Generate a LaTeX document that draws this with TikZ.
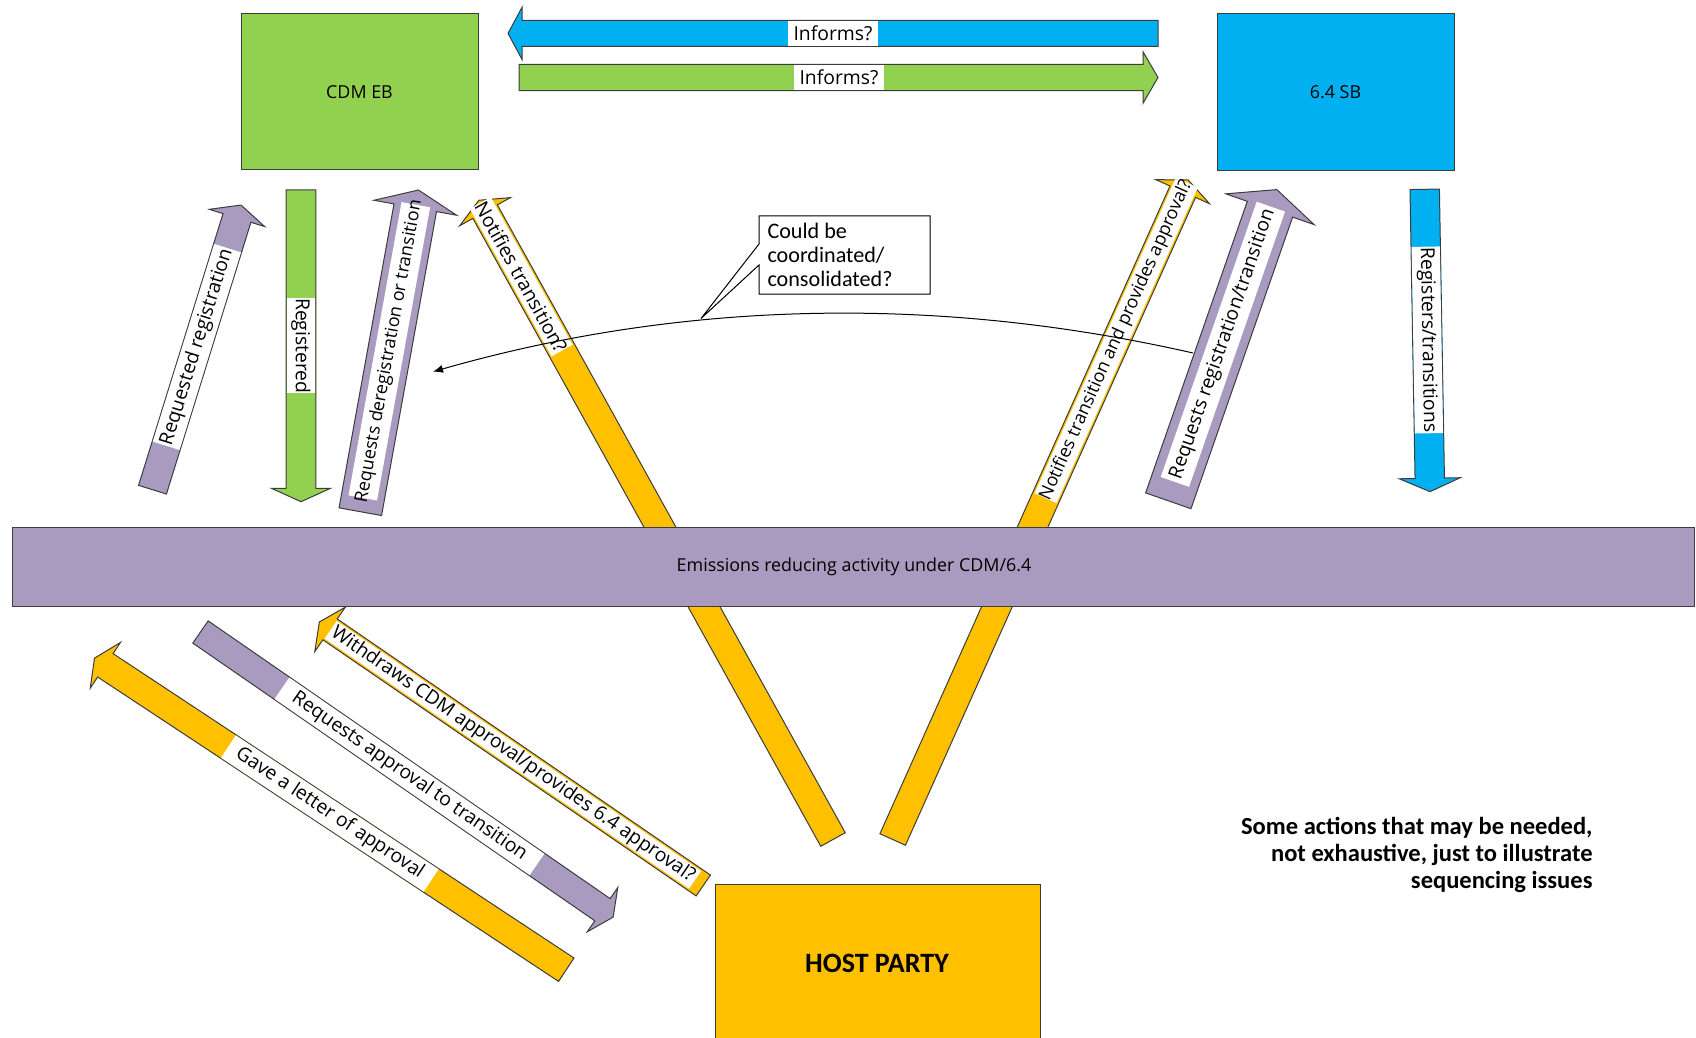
\documentclass[tikz,border=0pt]{standalone}
\usepackage{fontspec}
\setmainfont{Open Sans}
\newfontfamily\calibrifont{Carlito}
\usetikzlibrary{arrows.meta}

\tikzset{every picture/.style={line width=0.75pt}}
\definecolor{cdmgreen}{RGB}{146,208,80}
\definecolor{sbblue}{RGB}{0,176,240}
\definecolor{actpurple}{RGB}{169,155,192}
\definecolor{hostyellow}{RGB}{255,192,0}
\definecolor{edgegray}{RGB}{60,60,60}
\tikzset{
  shapeline/.style={draw=edgegray, line width=0.75pt},
  boxtext/.style={inner sep=0.75pt, font=\fontsize{13.4}{16}\selectfont},
  lbltext/.style={inner sep=0.75pt, font=\fontsize{14.5}{17}\selectfont},
  callouttext/.style={inner sep=0.75pt, align=left, font=\calibrifont\fontsize{16.6}{17.8}\selectfont},
  hosttext/.style={inner sep=0.75pt, font=\calibrifont\bfseries\fontsize{21}{25}\selectfont},
  notetext/.style={inner sep=0.75pt, align=right, font=\calibrifont\bfseries\fontsize{18.4}{20.25}\selectfont},
}
% block arrow along local x: #1 fill, #2 length, #3 shaft half width, #4 head half width, #5 head length
\newcommand{\blockarrow}[5]{%
  \draw[shapeline, fill=#1] (0,-#3) -- ({#2-#5},-#3) -- ({#2-#5},-#4) -- (#2,0) -- ({#2-#5},#4) -- ({#2-#5},#3) -- (0,#3) -- cycle;}
% white label inside an arrow: #1 start, #2 end, #3 half width, #4 text angle, #5 name, #6 text
\newcommand{\arrowlabel}[6]{%
  \fill[white] (#1,-#3) rectangle (#2,#3);
  \node[lbltext, rotate=#4] (#5) at ({(#1+#2)/2},0) {#6};}
\newcommand{\smalllbl}{\fontsize{13.5}{16}\selectfont}

\begin{document}
\begin{tikzpicture}[x=0.75pt,y=0.75pt,yscale=-1,xscale=1]
\path[use as bounding box] (0,0) rectangle (1696,1038);

%Shape: Up Arrow, host party to CDM EB
\begin{scope}[shift={(833,839.5)}, rotate=-118.99]
\blockarrow{hostyellow}{730.8}{14}{29}{13}
\arrowlabel{559}{727.8}{12}{-61.01}{notifycdm}{Notifies transition?}
\end{scope}
%Shape: Up Arrow, host party to 6.4 SB
\begin{scope}[shift={(892.7,839.5)}, rotate=-65.88]
\blockarrow{hostyellow}{722.8}{14}{29.3}{13}
\arrowlabel{374}{719.8}{12}{65.88}{notifysb}{\smalllbl Notifies transition and provides approval?}
\end{scope}

%Shape: Rectangle, activity band
\draw[shapeline, fill=actpurple] (12,527) rectangle (1694,606);
% Text Node
\node[boxtext] (activity) at (854,567) {Emissions reducing activity under CDM/6.4};

%Shape: Rectangle
\draw[shapeline, fill=cdmgreen] (241,14) rectangle (478,170);
% Text Node
\node[boxtext] (cdmeb) at (359.5,92) {CDM EB};
%Shape: Rectangle
\draw[shapeline, fill=sbblue] (1217,14) rectangle (1454,171);
% Text Node
\node[boxtext] (sb) at (1335.5,92) {6.4 SB};

%Shape: Left Arrow
\begin{scope}[shift={(1158,33.4)}, rotate=180]
\blockarrow{sbblue}{650}{12.9}{26}{14}
\arrowlabel{280}{370}{12.4}{0}{informcdm}{Informs?}
\end{scope}
%Shape: Right Arrow
\begin{scope}[shift={(519,77.5)}, rotate=0]
\blockarrow{cdmgreen}{639}{13.2}{25.8}{15}
\arrowlabel{275}{365}{12.7}{0}{informsb}{Informs?}
\end{scope}

%Shape: Up Arrow
\begin{scope}[shift={(152.5,489.7)}, rotate=-72.73]
\blockarrow{actpurple}{298.1}{14.6}{29}{13.5}
\arrowlabel{46}{253}{14}{72.73}{reqreg}{Requested registration}
\end{scope}
%Shape: Down Arrow
\begin{scope}[shift={(301,190)}, rotate=90]
\blockarrow{cdmgreen}{311.7}{14.85}{29.5}{13.4}
\arrowlabel{108.3}{203.3}{14.3}{-90}{registered}{Registered}
\end{scope}
%Shape: Up Arrow
\begin{scope}[shift={(360.3,511.7)}, rotate=-79.75]
\blockarrow{actpurple}{326.9}{21.6}{42}{18}
\arrowlabel{14}{312}{14.5}{79.75}{reqdereg}{\smalllbl Requests deregistration or transition}
\end{scope}

%Curve Lines
\coordinate (curvestart) at (1193,353);
\coordinate (curveend) at (433,371.7);
\draw[-{Latex[length=7.5pt,width=6pt]}] (curvestart) .. controls (942,296) and (687,299) .. (curveend);

%Shape: Callout
\coordinate (calloutpt) at (701,318.5);
\draw[fill=white] (759,216) -- (930,216) -- (930,294) -- (759,294) -- (759,265) -- (calloutpt) -- (759,244) -- cycle;
% Text Node
\node[callouttext, anchor=west] (coordinated) at (766,255) {Could be\\coordinated/\\consolidated?};

%Shape: Up Arrow
\begin{scope}[shift={(1168.3,500.8)}, rotate=-70.78]
\blockarrow{actpurple}{329.6}{24}{46.7}{20.8}
\arrowlabel{20}{311.5}{15}{70.78}{reqtrans}{Requests registration/transition}
\end{scope}
%Shape: Down Arrow
\begin{scope}[shift={(1424.7,189.3)}, rotate=89]
\blockarrow{sbblue}{302.4}{14.7}{30.5}{13.4}
\arrowlabel{57.4}{244}{14.1}{-89}{registers}{Registers/transitions}
\end{scope}

%Shape: Arrows between host party and the activity
\begin{scope}[shift={(566.3,969.7)}, rotate=-146.56]
\blockarrow{hostyellow}{565.4}{14}{27.4}{13}
\arrowlabel{162}{405}{13.4}{-33.44}{gaveloa}{Gave a letter of approval}
\end{scope}
\begin{scope}[shift={(200.5,632)}, rotate=34.64]
\blockarrow{actpurple}{501.6}{13.5}{27}{13}
\arrowlabel{99}{409}{12.9}{-34.64}{reqappr}{Requests approval to transition}
\end{scope}
\begin{scope}[shift={(703.3,885.5)}, rotate=-145.54]
\blockarrow{hostyellow}{465.7}{12.65}{27}{13}
\arrowlabel{10}{452}{10.65}{-34.46}{withdraws}{Withdraws CDM approval/provides 6.4 approval?}
\end{scope}

%Shape: Rectangle, host party
\fill[hostyellow] (715,884) rectangle (1040,1038);
\draw[shapeline] (715,1038) -- (715,884) -- (1040,884) -- (1040,1038);
% Text Node
\node[hosttext] (host) at (877,963) {HOST PARTY};

% Text Node
\node[notetext, anchor=east] (note) at (1594,855) {Some actions that may be needed,\\not exhaustive, just to illustrate\\sequencing issues};

\end{tikzpicture}
\end{document}
